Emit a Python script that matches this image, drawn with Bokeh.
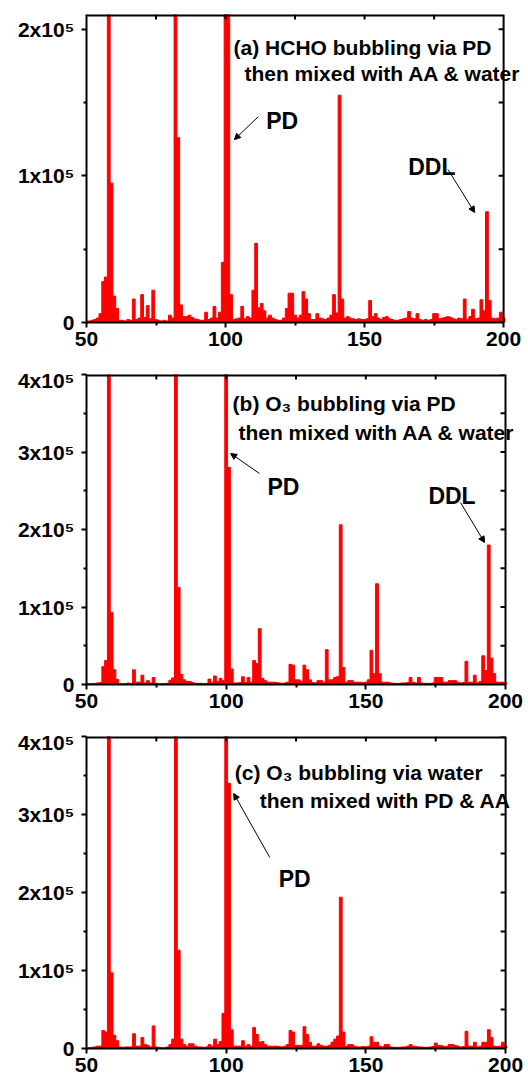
from bokeh.plotting import figure
from bokeh.layouts import column
from bokeh.models import Range1d, FixedTicker, Label, Arrow, NormalHead
from bokeh.embed import file_html
from bokeh.resources import INLINE

# m/z axis (unit resolution)
MZ = list(range(50, 201))

# (a) HCHO bubbling via PD then mixed with AA & water
INT_A = [
    1000, 1000, 1500, 2000, 3000, 6000, 28000, 31000, 600000, 95000,      # 50-59
    18000, 9500, 1500, 1500, 1000, 2000, 1500, 16000, 2000, 3000,         # 60-69
    19000, 3500, 11500, 2500, 22000, 2000, 1500, 1000, 1500, 1000,        # 70-79
    5000, 3000, 600000, 126000, 12000, 4000, 4000, 5000, 3500, 2500,      # 80-89
    2000, 1500, 1500, 7000, 2000, 3000, 11000, 3000, 7000, 41000,         # 90-99
    800000, 250000, 19000, 2000, 2500, 3000, 11000, 2500, 4000, 3000,     # 100-109
    22000, 54000, 10000, 13000, 8000, 3000, 5000, 3000, 2000, 1500,       # 110-119
    1500, 3000, 9500, 20000, 20000, 5000, 3000, 5000, 21000, 16000,       # 120-129
    6000, 2000, 2000, 6000, 3000, 2500, 2000, 3000, 5000, 19000,          # 130-139
    6500, 155000, 16000, 3000, 4000, 3000, 2500, 2000, 2500, 2000,        # 140-149
    2000, 2500, 15000, 4000, 6000, 3000, 2000, 3500, 4000, 2500,          # 150-159
    2000, 1500, 1500, 2000, 2500, 3000, 7500, 3000, 2500, 6000,           # 160-169
    2000, 1500, 2000, 1500, 2000, 6000, 6000, 2500, 3000, 3500,           # 170-179
    4000, 3500, 2500, 2000, 3000, 2500, 16000, 2000, 4000, 9000,          # 180-189
    2500, 3000, 15500, 8000, 75500, 15000, 3000, 2500, 3000, 7000,        # 190-199
    3000,                                                                 # 200
]

# (b) O3 bubbling via PD then mixed with AA & water
INT_B = [
    1000, 1000, 1000, 1500, 2000, 2500, 23000, 31000, 900000, 93000,      # 50-59
    19000, 6500, 1000, 1000, 1000, 2000, 1000, 19000, 3000, 3000,         # 60-69
    12000, 2000, 5000, 2000, 9000, 1500, 1000, 1000, 1000, 1500,          # 70-79
    5500, 8500, 900000, 125000, 13000, 6000, 4000, 4000, 2500, 1500,      # 80-89
    1500, 1500, 1000, 1500, 7000, 3000, 11000, 4000, 8000, 5000,          # 90-99
    1000000, 280000, 20000, 2000, 2000, 2500, 10000, 2500, 9000, 3000,    # 100-109
    31000, 27000, 72000, 8000, 5000, 3000, 3000, 3000, 2500, 2000,        # 110-119
    1500, 2000, 3000, 26000, 25000, 6000, 6000, 4000, 25000, 19000,       # 120-129
    6000, 2500, 2000, 5000, 5000, 3000, 45000, 6000, 6000, 9000,          # 130-139
    10000, 206000, 22000, 3000, 5000, 5000, 3000, 3000, 3000, 2500,       # 140-149
    3000, 6000, 44000, 14000, 130000, 14000, 3000, 3000, 3000, 2000,      # 150-159
    1500, 1500, 1500, 2000, 2000, 2500, 9000, 3000, 2000, 9000,           # 160-169
    2000, 1500, 1500, 1500, 2000, 9000, 9000, 9000, 3000, 3000,           # 170-179
    5000, 5000, 5000, 3000, 2000, 2500, 30000, 3000, 3000, 12000,         # 180-189
    2000, 4000, 37000, 18000, 180000, 34000, 14000, 3000, 3000, 3000,     # 190-199
    2000,                                                                 # 200
]

# (c) O3 bubbling via water then mixed with PD & AA
INT_C = [
    1000, 1000, 1500, 2000, 3000, 3000, 23000, 21000, 1000000, 97000,     # 50-59
    17000, 10000, 2000, 1500, 2000, 2000, 2000, 19000, 3000, 3000,        # 60-69
    14000, 5000, 4000, 2000, 29000, 2000, 1500, 1000, 1000, 2000,         # 70-79
    5000, 12000, 1000000, 126000, 12000, 5000, 3000, 6000, 6000, 3000,    # 80-89
    2000, 2000, 1500, 2000, 5000, 3000, 12000, 5000, 9000, 45000,         # 90-99
    1200000, 340000, 24000, 3000, 3000, 3000, 10000, 3000, 5000, 3000,    # 100-109
    27000, 18000, 8000, 9000, 5000, 3000, 3000, 3000, 3000, 2500,         # 110-119
    2000, 3000, 5000, 23000, 21000, 4000, 4000, 4000, 28000, 18000,       # 120-129
    8000, 3000, 3000, 6000, 4000, 3000, 3000, 4000, 8000, 12000,          # 130-139
    16000, 194000, 21000, 3000, 5000, 5000, 3000, 2000, 2000, 2500,       # 140-149
    2000, 3000, 15000, 8000, 8000, 3000, 2000, 5000, 5000, 2000,          # 150-159
    1500, 1500, 1500, 2000, 2000, 3000, 5000, 3000, 2500, 2000,           # 160-169
    2000, 1500, 1500, 2000, 2500, 7000, 4000, 4000, 2500, 3000,           # 170-179
    5000, 5000, 4000, 3000, 2000, 2500, 22000, 3000, 3000, 8000,          # 180-189
    2000, 3000, 8000, 8000, 24000, 14000, 3000, 2500, 3000, 8000,         # 190-199
    3000,                                                                 # 200
]

X_LO, X_HI = 50, 200
X_MAJOR = [50, 100, 150, 200]
X_MINOR = [75, 125, 175]
X_TOP = [75, 100, 125, 150, 175]
SUP = "\u2075"
Y_LABELS_A = {0: "0", 100000: "1x10" + SUP, 200000: "2x10" + SUP}
Y_LABELS_BC = {0: "0", 100000: "1x10" + SUP, 200000: "2x10" + SUP,
               300000: "3x10" + SUP, 400000: "4x10" + SUP}

FONT = "Liberation Sans"
RED = "#FF0000"
FIG_W = 528
TICK_IN = 5


def style_axis(ax):
    ax.axis_line_width = 2
    ax.axis_line_color = "black"
    ax.major_tick_line_width = 2
    ax.minor_tick_line_width = 2
    ax.major_tick_line_color = "black"
    ax.minor_tick_line_color = "black"
    ax.major_tick_in, ax.major_tick_out = 0, 5
    ax.minor_tick_in, ax.minor_tick_out = 0, 3
    ax.major_label_text_font = FONT
    ax.major_label_text_font_style = "bold"
    ax.major_label_text_font_size = "21px"
    ax.major_label_text_color = "black"


def panel(vals, ymax, ymajor, yminor, ylabels, height, top_border, bottom_border,
          left_px, axis_w):
    # frame runs to the right canvas edge so the annotations can pass the right axis
    frame_w = FIG_W - left_px
    px_per_unit = axis_w / float(X_HI - X_LO)
    x_end = X_LO + frame_w / px_per_unit
    p = figure(width=FIG_W, height=height,
               x_range=Range1d(X_LO, x_end), y_range=Range1d(0, ymax),
               output_backend="svg", toolbar_location=None,
               min_border_left=left_px, min_border_right=0,
               min_border_top=top_border, min_border_bottom=bottom_border)
    p.grid.visible = False
    p.outline_line_color = None
    p.background_fill_color = "white"
    p.border_fill_color = "white"

    p.vbar(x=MZ, top=vals, width=1.0, fill_color=RED, line_color=RED, line_width=1)

    p.xaxis.ticker = FixedTicker(ticks=X_MAJOR, minor_ticks=X_MINOR)
    p.xaxis.bounds = (X_LO, X_HI)
    p.yaxis.ticker = FixedTicker(ticks=ymajor, minor_ticks=yminor)
    p.yaxis.major_label_overrides = ylabels
    for ax in p.xaxis + p.yaxis:
        style_axis(ax)
    p.xaxis.major_label_standoff = 4
    p.yaxis.major_label_standoff = 7

    frame_h = height - top_border - bottom_border
    dx = TICK_IN / px_per_unit
    dy = TICK_IN * ymax / float(frame_h)
    # top and right frame lines
    p.segment(x0=[X_LO], y0=[ymax], x1=[X_HI], y1=[ymax], line_color="black", line_width=4)
    p.segment(x0=[X_HI], y0=[0], x1=[X_HI], y1=[ymax], line_color="black", line_width=2)
    # mirrored inward ticks
    p.segment(x0=X_TOP, y0=[ymax] * len(X_TOP), x1=X_TOP, y1=[ymax - dy] * len(X_TOP),
              line_color="black", line_width=2)
    yr = sorted(ymajor + yminor)
    p.segment(x0=[X_HI] * len(yr), y0=yr, x1=[X_HI - dx] * len(yr), y1=yr,
              line_color="black", line_width=2)
    return p


def add_text(p, x, y, text, size):
    p.add_layout(Label(x=x, y=y, text=text, text_font=FONT, text_font_style="bold",
                       text_font_size=size, text_color="black",
                       text_align="left", text_baseline="alphabetic"))


def add_arrow(p, x0, y0, x1, y1):
    p.add_layout(Arrow(end=NormalHead(size=6, fill_color="black", line_color="black", line_width=1),
                       x_start=x0, y_start=y0, x_end=x1, y_end=y1,
                       line_color="black", line_width=1))


# ---- panel (a)
pa = panel(INT_A, 210000, [0, 100000, 200000], [50000, 150000], Y_LABELS_A,
           368, 14, 46, 84, 419)
add_text(pa, 102.9, 187500, "(a) HCHO bubbling via PD", "21px")
add_text(pa, 106.8, 169700, "then mixed with AA & water", "21px")
add_text(pa, 114.6, 137700, "PD", "23px")
add_arrow(pa, 111.8, 140400, 103.2, 124700)
add_text(pa, 165.7, 106300, "DDL", "23px")
add_arrow(pa, 180.0, 104300, 189.6, 75000)

# ---- panel (b)
yb_major = [0, 100000, 200000, 300000, 400000]
yb_minor = [50000, 150000, 250000, 350000]
pb = panel(INT_B, 400000, yb_major, yb_minor, Y_LABELS_BC, 362, 6, 46, 86, 419)
add_text(pb, 102.3, 362600, "(b) O\u2083 bubbling via PD", "21px")
add_text(pb, 104.4, 325200, "then mixed with AA & water", "21px")
add_text(pb, 114.8, 254200, "PD", "23px")
add_arrow(pb, 111.9, 272300, 101.6, 298100)
add_text(pb, 172.4, 242600, "DDL", "23px")
add_arrow(pb, 183.9, 234800, 192.5, 183200)

# ---- panel (c)
pc = panel(INT_C, 400000, yb_major, yb_minor, Y_LABELS_BC, 351, 6, 33, 84, 421)
add_text(pc, 103.1, 353800, "(c) O\u2083 bubbling via water", "21px")
add_text(pc, 112.0, 317900, "then mixed with PD & AA", "21px")
add_text(pc, 118.8, 216700, "PD", "23px")
add_arrow(pc, 115.6, 244900, 102.7, 326900)

layout = column(pa, pb, pc, spacing=0)
open("out.html", "w").write(file_html(layout, INLINE))
